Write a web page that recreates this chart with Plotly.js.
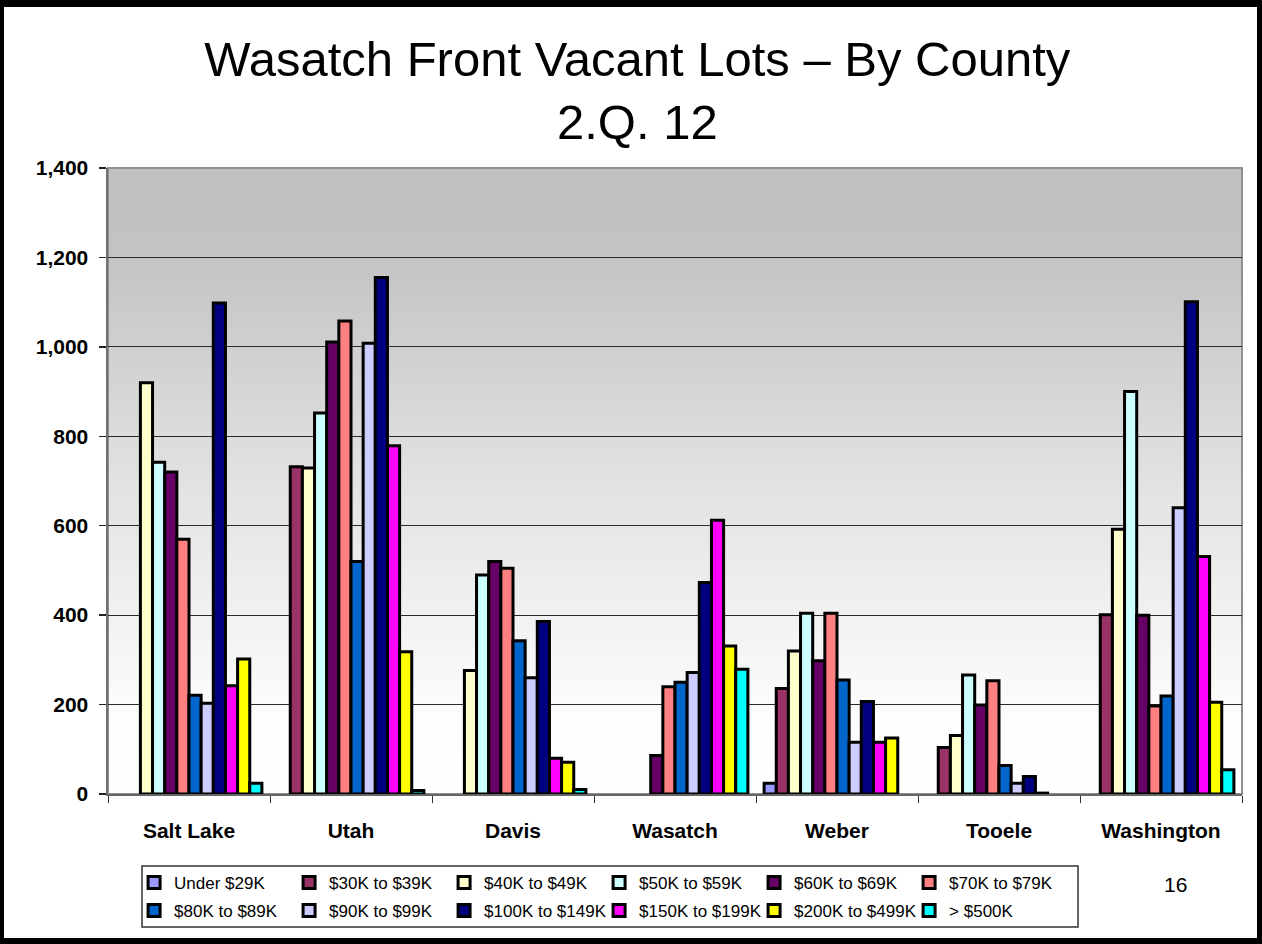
<!DOCTYPE html>
<html>
<head>
<meta charset="utf-8">
<script src="https://cdn.plot.ly/plotly-3.0.1.min.js"></script>
<style>
html,body{margin:0;padding:0;background:#fff;}
#wrap{position:relative;width:1262px;height:944px;overflow:hidden;}
#chart{width:1262px;height:944px;}
#frame{position:absolute;left:0;top:0;width:1262px;height:944px;box-sizing:border-box;border-style:solid;border-color:#000;border-width:7px 5px 6px 4px;pointer-events:none;}
</style>
</head>
<body>
<div id="wrap"><div id="chart"></div><div id="frame"></div></div>
<script>
// Categories (counties)
const counties = ["Salt Lake", "Utah", "Davis", "Wasatch", "Weber", "Tooele", "Washington"];

// Series names
const seriesNames = ["Under $29K", "$30K to $39K", "$40K to $49K", "$50K to $59K", "$60K to $69K", "$70K to $79K",
                     "$80K to $89K", "$90K to $99K", "$100K to $149K", "$150K to $199K", "$200K to $499K", "> $500K"];

// Values (vacant lots) per price band, in county order
const under29K  = [0,    0,    0,   0,   24,  0,   0];
const k30to39   = [0,    732,  0,   0,   236, 104, 401];
const k40to49   = [920,  729,  276, 0,   320, 131, 592];
const k50to59   = [742,  852,  490, 0,   404, 266, 900];
const k60to69   = [720,  1011, 520, 86,  298, 199, 400];
const k70to79   = [570,  1058, 505, 240, 404, 253, 197];
const k80to89   = [221,  520,  343, 250, 255, 64,  219];
const k90to99   = [203,  1008, 260, 272, 116, 24,  640];
const k100to149 = [1098, 1155, 386, 473, 207, 39,  1101];
const k150to199 = [242,  779,  80,  612, 116, 2,   531];
const k200to499 = [302,  318,  71,  331, 125, 0,   205];
const over500K  = [24,   8,    10,  279, 0,   0,   54];

// Y axis ticks
const yTickVals = [0, 200, 400, 600, 800, 1000, 1200, 1400];
const yTickText = ["0", "200", "400", "600", "800", "1,000", "1,200", "1,400"];

const seriesValues = [under29K, k30to39, k40to49, k50to59, k60to69, k70to79,
                      k80to89, k90to99, k100to149, k150to199, k200to499, over500K];
const seriesColors = ["#9999FF", "#993366", "#FFFFCC", "#CCFFFF", "#660066", "#FF8080",
                      "#0066CC", "#CCCCFF", "#000080", "#FF00FF", "#FFFF00", "#00FFFF"];

const FONT = "Liberation Sans, Arial, Helvetica, sans-serif";

const traces = seriesNames.map((name, i) => ({
  type: "bar",
  name: name,
  x: counties,
  // zero counts are left out so no flat outline is drawn
  y: seriesValues[i].map(v => (v === 0 ? null : v)),
  marker: { color: seriesColors[i], line: { color: "#000000", width: 3 } },
  legend: i < 6 ? "legend" : "legend2",
  hoverinfo: "x+y+name"
}));

const gradSvg = '<svg xmlns="http://www.w3.org/2000/svg" width="100" height="100" preserveAspectRatio="none">' +
  '<defs><linearGradient id="g" x1="0" y1="0" x2="0" y2="1">' +
  '<stop offset="0" stop-color="#c0c0c0"/><stop offset="0.14" stop-color="#c3c3c3"/>' +
  '<stop offset="0.5" stop-color="#e2e2e2"/><stop offset="0.88" stop-color="#fdfdfd"/>' +
  '<stop offset="1" stop-color="#ffffff"/></linearGradient></defs>' +
  '<rect x="0" y="0" width="100" height="100" fill="url(#g)"/></svg>';
const gradUri = "data:image/svg+xml;charset=utf-8," + encodeURIComponent(gradSvg);

const legendCommon = {
  orientation: "h",
  xref: "paper", yref: "paper",
  xanchor: "left", yanchor: "middle",
  bgcolor: "rgba(0,0,0,0)",
  borderwidth: 0,
  font: { family: FONT, size: 17, color: "#000" },
  entrywidth: 110,
  entrywidthmode: "pixels",
  itemwidth: 30,
  traceorder: "normal"
};

const layout = {
  width: 1262,
  height: 944,
  margin: { l: 108, r: 20, t: 168, b: 150 },
  paper_bgcolor: "#ffffff",
  plot_bgcolor: "rgba(0,0,0,0)",
  barmode: "group",
  bargap: 0.1,
  bargroupgap: 0,
  title: {
    text: "Wasatch Front Vacant Lots – By County<br>2.Q. 12",
    font: { family: FONT, size: 49, color: "#000" },
    x: 0.505, xref: "container", xanchor: "center",
    y: 0.92, yref: "container", yanchor: "middle"
  },
  xaxis: {
    type: "category",
    tickfont: { family: FONT, size: 21, color: "#000", weight: "bold" },
    ticks: "outside", tickson: "boundaries", ticklen: 7, tickcolor: "#333", tickwidth: 1,
    ticklabelstandoff: 17,
    showline: true, linecolor: "#666", linewidth: 1.5,
    showgrid: false, zeroline: false,
    fixedrange: true
  },
  yaxis: {
    range: [0, 1400],
    tickvals: yTickVals,
    ticktext: yTickText,
    tickfont: { family: FONT, size: 21, color: "#000", weight: "bold" },
    ticks: "outside", ticklen: 7, tickcolor: "#222", tickwidth: 1.5,
    showline: true, linecolor: "#707070", linewidth: 2.5,
    showgrid: true, gridcolor: "#2a2a2a", gridwidth: 1,
    zeroline: false,
    ticklabelstandoff: 6,
    fixedrange: true
  },
  images: [{
    source: gradUri, xref: "paper", yref: "paper",
    x: 0, y: 1, sizex: 1, sizey: 1, sizing: "stretch",
    xanchor: "left", yanchor: "top", layer: "below"
  }],
  shapes: [
    { type: "rect", xref: "paper", yref: "paper", x0: 0, x1: 1, y0: 0, y1: 1,
      line: { color: "#909090", width: 2 }, fillcolor: "rgba(0,0,0,0)", layer: "below" },
    { type: "rect", xref: "paper", yref: "paper", x0: 0.030, x1: 0.8554, y0: -0.115, y1: -0.2125,
      line: { color: "#333", width: 1.5 }, fillcolor: "rgba(0,0,0,0)", layer: "above" }
  ],
  legend: Object.assign({}, legendCommon, { x: 0.023, y: -0.142 }),
  legend2: Object.assign({}, legendCommon, { x: 0.023, y: -0.187 }),
  annotations: [{
    text: "16", xref: "paper", yref: "paper", x: 0.941, y: -0.144,
    xanchor: "center", yanchor: "middle", showarrow: false,
    font: { family: FONT, size: 21, color: "#000" }
  }]
};

Plotly.newPlot("chart", traces, layout, { displayModeBar: false, staticPlot: true });
</script>
</body>
</html>
